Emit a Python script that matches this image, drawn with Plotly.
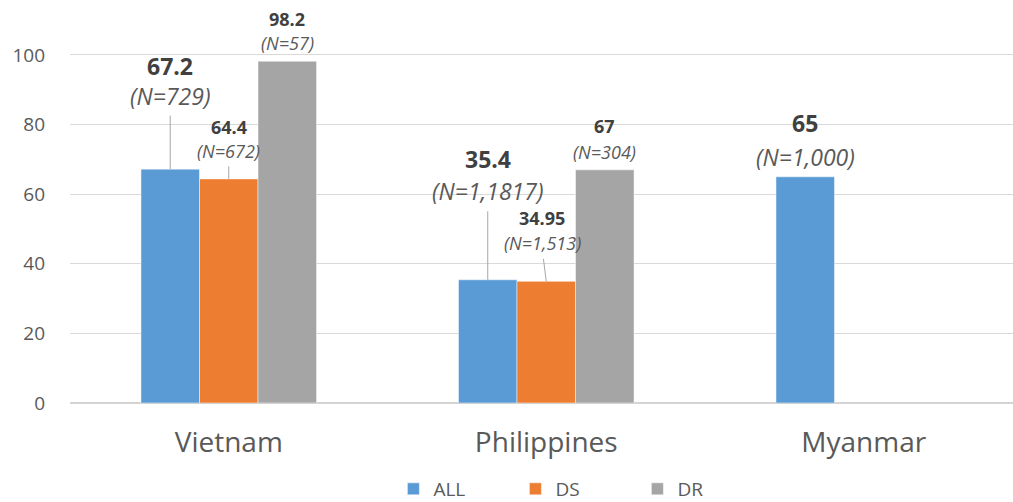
import plotly.graph_objects as go

# ---- data -------------------------------------------------------------
categories = ["Vietnam", "Philippines", "Myanmar"]
series_names = ["ALL", "DS", "DR"]
all_values = [67.2, 35.4, 65]
ds_values = [64.4, 34.95, None]
dr_values = [98.2, 67, None]
all_counts = ["(N=729)", "(N=1,1817)", "(N=1,000)"]
ds_counts = ["(N=672)", "(N=1,513)", None]
dr_counts = ["(N=57)", "(N=304)", None]
y_ticks = [0, 20, 40, 60, 80, 100]

# ---- styling ----------------------------------------------------------
colors = ["#5B9BD5", "#ED7D31", "#A5A5A5"]
FONT = "Open Sans"
TEXT_DARK = "#404040"
TEXT_GRAY = "#595959"
BARGAP = 0.447
X_RANGE = [-0.5, 2.47]
Y_RANGE = [0, 114.94]

# label placement per (series, category): x nudge px, value-line offset px,
# count-line offset px, leader (dx, length) or None, big font?
label_style = {
    (0, 0): dict(dx=0, v=103, n=73, leader=(0, 55), big=True),
    (1, 0): dict(dx=0, v=52, n=28, leader=(0, 14), big=False),
    (2, 0): dict(dx=0, v=42, n=18, leader=None, big=False),
    (0, 1): dict(dx=0, v=121, n=89, leader=(0, 70), big=True),
    (1, 1): dict(dx=-4, v=63, n=38, leader=(-3, 24), big=False),
    (2, 1): dict(dx=0, v=44, n=18, leader=None, big=False),
    (0, 2): dict(dx=0, v=54, n=20, leader=None, big=True),
}
BIG, SMALL = 23, 18

values = [all_values, ds_values, dr_values]
counts = [all_counts, ds_counts, dr_counts]

fig = go.Figure()
for k, name in enumerate(series_names):
    fig.add_trace(go.Bar(
        name=name, x=categories, y=values[k],
        marker=dict(color=colors[k], line=dict(color="rgba(255,255,255,0.6)", width=0.8)),
    ))

# bar width in category units, used to centre labels on each bar
bar_w = (1 - BARGAP) / len(series_names)

annotations = []
for k in range(len(series_names)):
    for i, cat in enumerate(categories):
        v = values[k][i]
        if v is None:
            continue
        st = label_style[(k, i)]
        xc = i + (k - 1) * bar_w
        size = BIG if st["big"] else SMALL
        annotations.append(dict(
            x=xc, y=v, xref="x", yref="y", showarrow=False,
            text=f"<b>{v:g}</b>", xshift=st["dx"], yshift=st["v"],
            yanchor="middle", borderpad=0,
            font=dict(family=FONT, size=size, color=TEXT_DARK),
        ))
        annotations.append(dict(
            x=xc, y=v, xref="x", yref="y", showarrow=False,
            text=f"<i>{counts[k][i]}</i>", xshift=st["dx"], yshift=st["n"],
            yanchor="middle", borderpad=0,
            font=dict(family=FONT, size=size, color=TEXT_GRAY),
        ))
        if st["leader"] is not None:
            ldx, llen = st["leader"]
            annotations.append(dict(
                x=xc, y=v, xref="x", yref="y", text="", showarrow=True,
                arrowhead=0, arrowwidth=1, arrowcolor="#A6A6A6",
                ax=ldx, ay=-llen, axref="pixel", ayref="pixel", standoff=0,
            ))

fig.update_layout(
    width=1013, height=502,
    margin=dict(l=70, r=0, t=3, b=99, autoexpand=False),
    paper_bgcolor="white", plot_bgcolor="white",
    barmode="group", bargap=BARGAP, bargroupgap=0,
    font=dict(family=FONT, color=TEXT_GRAY),
    annotations=annotations,
    showlegend=True,
    legend=dict(
        orientation="h", x=0.537, xanchor="center", xref="paper",
        y=-0.215, yref="paper", yanchor="middle",
        font=dict(family=FONT, size=19, color=TEXT_GRAY),
        entrywidth=77, itemwidth=30, traceorder="normal",
    ),
)
fig.update_xaxes(
    type="category", range=X_RANGE, showgrid=False, showline=False,
    tickfont=dict(family=FONT, size=28, color=TEXT_GRAY),
    ticks="", ticklabelstandoff=20,
)
fig.update_yaxes(
    range=Y_RANGE, tickvals=y_ticks, showgrid=True, gridcolor="#D9D9D9", gridwidth=1,
    zeroline=True, zerolinecolor="#D4D4D4", zerolinewidth=2, showline=False,
    tickfont=dict(family=FONT, size=19, color=TEXT_GRAY),
    ticks="", ticklabelstandoff=24,
)

fig.write_html("out.html")
